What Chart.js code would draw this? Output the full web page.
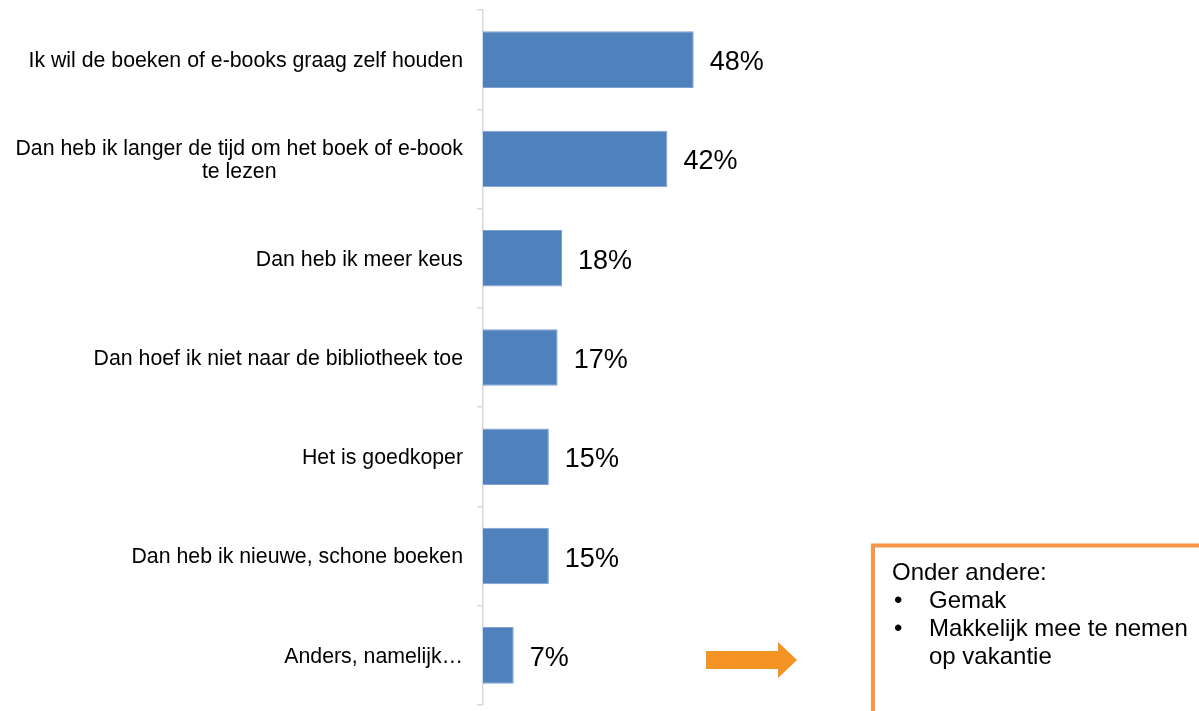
<!DOCTYPE html>
<html>
<head>
<meta charset="utf-8">
<script src="https://cdn.jsdelivr.net/npm/chart.js@4"></script>
<style>
  html, body { margin: 0; padding: 0; background: #fff; }
  #wrap { position: relative; width: 1199px; height: 711px; }
</style>
</head>
<body>
<div id="wrap"><canvas id="redenChart" width="1199" height="711"></canvas></div>
<script>
// Redenen om boeken/e-books te kopen in plaats van te lenen
const categories = [
  ['Ik wil de boeken of e-books graag zelf houden'],
  ['Dan heb ik langer de tijd om het boek of e-book', 'te lezen'],
  ['Dan heb ik meer keus'],
  ['Dan hoef ik niet naar de bibliotheek toe'],
  ['Het is goedkoper'],
  ['Dan heb ik nieuwe, schone boeken'],
  ['Anders, namelijk\u2026']
];
const percentages = [48, 42, 18, 17, 15, 15, 7];
const noteTitle = 'Onder andere:';
const noteItems = [['Gemak'], ['Makkelijk mee te nemen', 'op vakantie']];

const FONT = '"Liberation Sans", Arial, sans-serif';

// category labels, centred per line and right-anchored on the widest line
const labelPlugin = {
  id: 'catLabels',
  afterDraw(chart) {
    const c = chart.ctx, y = chart.scales.y;
    c.save();
    c.font = '21.3px ' + FONT;
    c.fillStyle = '#000';
    c.textBaseline = 'middle';
    c.textAlign = 'center';
    const right = y.right - 20;
    categories.forEach((lines, i) => {
      const w = Math.max(...lines.map(l => c.measureText(l).width));
      const cx = right - w / 2;
      const cy = y.getPixelForValue(i) + 1.5;
      const lh = 23;
      lines.forEach((l, k) => {
        c.fillText(l, cx, cy + (k - (lines.length - 1) / 2) * lh);
      });
    });
    c.restore();
  }
};

// percentage next to each bar
const valuePlugin = {
  id: 'valueLabels',
  afterDatasetsDraw(chart) {
    const c = chart.ctx;
    const meta = chart.getDatasetMeta(0);
    c.save();
    c.font = '27px ' + FONT;
    c.fillStyle = '#000';
    c.textBaseline = 'middle';
    c.textAlign = 'left';
    meta.data.forEach((bar, i) => {
      c.fillText(percentages[i] + '%', bar.x + 16, bar.y + 3);
    });
    c.restore();
  }
};

// arrow and note box on the right
const notePlugin = {
  id: 'note',
  afterDraw(chart) {
    const c = chart.ctx;
    c.save();
    c.fillStyle = '#F39324';
    c.beginPath();
    c.moveTo(706, 651);
    c.lineTo(778, 651);
    c.lineTo(778, 642);
    c.lineTo(797, 660);
    c.lineTo(778, 678);
    c.lineTo(778, 669);
    c.lineTo(706, 669);
    c.closePath();
    c.fill();

    c.strokeStyle = '#F79646';
    c.lineWidth = 4;
    c.beginPath();
    c.moveTo(873, 720);
    c.lineTo(873, 545.5);
    c.lineTo(1210, 545.5);
    c.stroke();

    c.fillStyle = '#000';
    c.font = '24px ' + FONT;
    c.textBaseline = 'alphabetic';
    c.textAlign = 'left';
    let yy = 580;
    c.fillText(noteTitle, 892, yy);
    noteItems.forEach(item => {
      item.forEach((line, k) => {
        yy += 28;
        if (k === 0) c.fillText('\u2022', 894, yy);
        c.fillText(line, 929, yy);
      });
    });
    c.restore();
  }
};

new Chart(document.getElementById('redenChart'), {
  type: 'bar',
  data: {
    labels: categories.map(l => l.join(' ')),
    datasets: [{
      data: percentages,
      backgroundColor: '#4F81BD',
      borderColor: '#7FA2D3',
      borderWidth: 1,
      borderSkipped: 'start',
      categoryPercentage: 1,
      barPercentage: 0.57
    }]
  },
  options: {
    indexAxis: 'y',
    responsive: false,
    animation: false,
    layout: { padding: { top: 10, bottom: 6, left: 0, right: 277 } },
    plugins: { legend: { display: false }, tooltip: { enabled: false } },
    scales: {
      x: { display: false, min: 0, max: 100 },
      y: {
        afterFit(s) { s.width = 483; },
        ticks: { display: false },
        grid: { drawOnChartArea: false, offset: true, tickLength: 6, color: '#D9D9D9', lineWidth: 1.5 },
        border: { color: '#D9D9D9', width: 1.5 }
      }
    }
  },
  plugins: [labelPlugin, valuePlugin, notePlugin]
});
</script>
</body>
</html>
